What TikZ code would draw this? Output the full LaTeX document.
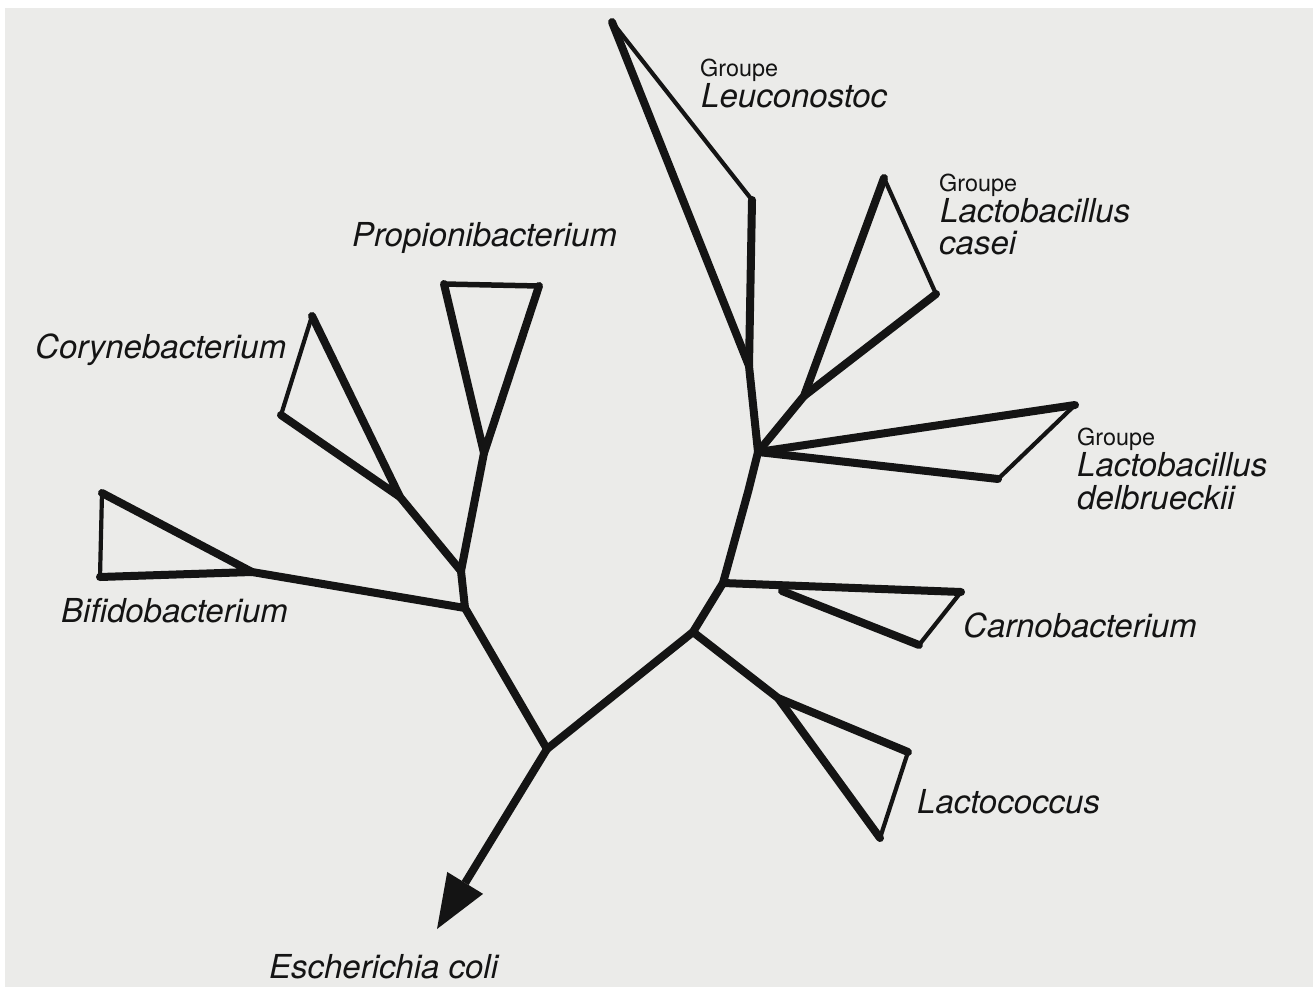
\documentclass[tikz,border=0pt]{standalone}
\usepackage{fontspec}
\setmainfont{TeX Gyre Heros}
\usetikzlibrary{arrows.meta}
\definecolor{paper}{RGB}{235,235,233}
\definecolor{ink}{RGB}{20,20,20}
\begin{document}
\begin{tikzpicture}[x=1pt,y=-1pt,
  thickln/.style={draw=ink,line width=8pt,line cap=round,line join=round},
  thinln/.style={draw=ink,line width=4.2pt,line cap=round,line join=round},
  medln/.style={draw=ink,line width=5.5pt,line cap=round,line join=round},
  lab/.style={anchor=base west,inner sep=0pt,text=ink,font=\itshape\fontsize{33}{33}\selectfont},
  grp/.style={anchor=base west,inner sep=0pt,text=ink,font=\fontsize{23.4}{24}\selectfont}]
\useasboundingbox (0,0) rectangle (1313,987);
\fill[white] (0,0) rectangle (1313,987);
\fill[paper] (5,8) rectangle (1313,987);
% vertices
\coordinate (leucT) at (612,22);
\coordinate (leucK) at (752,200);
\coordinate (leucJ) at (749,366);
\coordinate (E) at (758,452);
\coordinate (caseiT) at (884,178);
\coordinate (caseiR) at (936,294);
\coordinate (caseiJ) at (804,396);
\coordinate (delbU) at (1075,405);
\coordinate (delbL) at (998,479);
\coordinate (E2) at (748,492);
\coordinate (D) at (723,583);
\coordinate (carnoR) at (961,592);
\coordinate (carnoB) at (919,645);
\coordinate (carnoA) at (782,591);
\coordinate (C) at (693,632);
\coordinate (lactoA) at (778,698);
\coordinate (lactoU) at (908,752);
\coordinate (lactoL) at (880,838);
\coordinate (B) at (547,749);
\coordinate (tip) at (437,929);
\coordinate (A) at (465,608);
\coordinate (P) at (461,571);
\coordinate (propA) at (484,453);
\coordinate (propL) at (444,284);
\coordinate (propR) at (539,286);
\coordinate (coryA) at (400,497);
\coordinate (coryT) at (312,316);
\coordinate (coryL) at (281,415);
\coordinate (bifA) at (252,572);
\coordinate (bifT) at (102,493);
\coordinate (bifL) at (100,577);
% Leuconostoc
\draw[thinln] (leucT) -- (leucK);
\draw[thickln] (leucK) -- (leucJ);
\draw[thickln] (leucT) -- (leucJ) -- (E);
% L. casei
\draw[thinln] (caseiT) -- (caseiR);
\draw[thickln] (caseiR) -- (caseiJ);
\draw[thickln] (caseiT) -- (caseiJ) -- (E);
% L. delbrueckii
\draw[thinln] (delbU) -- (delbL);
\draw[thickln] (E) -- (delbU);
\draw[thickln] (E) -- (delbL);
% main stem
\draw[thickln] (E) -- (E2) -- (D) -- (C) -- (B);
% Carnobacterium
\draw[thinln] (carnoR) -- (carnoB);
\draw[thickln] (D) -- (carnoR);
\draw[thickln] (carnoA) -- (carnoB);
% Lactococcus
\draw[thinln] (lactoU) -- (lactoL);
\draw[thickln] (C) -- (lactoA) -- (lactoU);
\draw[thickln] (lactoA) -- (lactoL);
% Propionibacterium
\draw[medln] (propL) -- (propR);
\draw[thickln] (propL) -- (propA) -- (propR);
\draw[thickln] (propA) -- (P);
% Corynebacterium
\draw[thinln] (coryT) -- (coryL);
\draw[thickln] (coryT) -- (coryA) -- (coryL);
\draw[thickln] (coryA) -- (P);
% Bifidobacterium
\draw[thinln] (bifT) -- (bifL);
\draw[thickln] (bifT) -- (bifA) -- (bifL);
\draw[thickln] (bifA) -- (A);
% lower stem
\draw[thickln] (P) -- (A) -- (B);
\draw[thickln,line cap=butt,-{Triangle[length=54pt,width=42pt,line width=0pt]}] (B) -- (tip);
% labels
\node[grp] (leucG) at (700,77) {Groupe};
\node[lab] (leucN) at (701,108) {Leuconostoc};
\node[grp] (caseiG) at (939,191) {Groupe};
\node[lab] (caseiN1) at (940,222) {Lactobacillus};
\node[lab] (caseiN2) at (939,254) {casei};
\node[grp] (delbG) at (1077,445) {Groupe};
\node[lab] (delbN1) at (1077,476) {Lactobacillus};
\node[lab] (delbN2) at (1077,509) {delbrueckii};
\node[lab] (prop) at (352,246) {Propionibacterium};
\node[lab] (cory) at (35,358) {Corynebacterium};
\node[lab] (bif) at (61,622) {Bifidobacterium};
\node[lab] (carno) at (963,637) {Carnobacterium};
\node[lab] (lactoc) at (917,813) {Lactococcus};
\node[lab] (ecoli) at (269,978) {Escherichia coli};
\end{tikzpicture}
\end{document}
